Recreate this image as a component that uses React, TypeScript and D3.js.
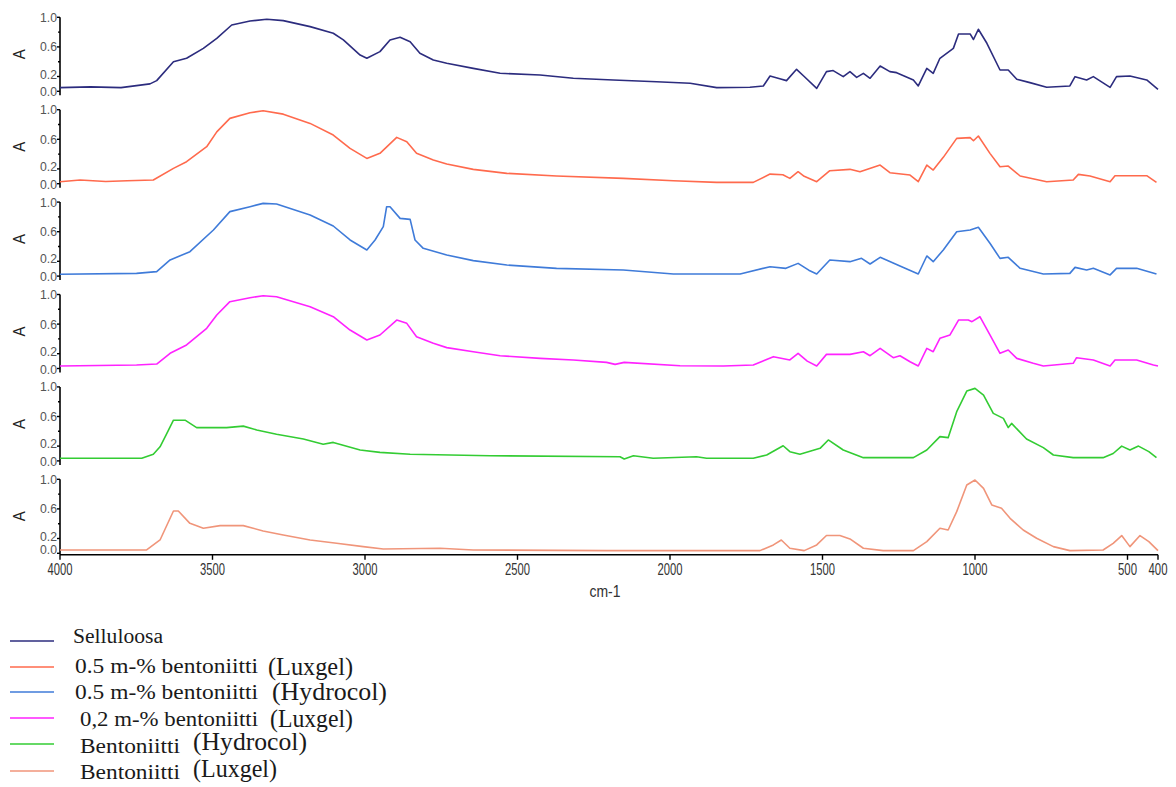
import React from "react";
import * as d3 from "d3";

// FTIR spectra, [wavenumber cm-1, absorbance]
const selluloosa: [number, number][] = [
  [4000, 0.05], [3900, 0.06], [3800, 0.05], [3705, 0.1], [3683, 0.144], [3628, 0.4], [3585, 0.446],
  [3530, 0.58], [3486, 0.716], [3437, 0.896], [3377, 0.95], [3322, 0.973], [3268, 0.955], [3180, 0.874],
  [3104, 0.784], [3071, 0.694], [3016, 0.49], [2994, 0.446], [2951, 0.536], [2918, 0.694], [2885, 0.73],
  [2852, 0.671], [2820, 0.514], [2776, 0.423], [2732, 0.378], [2645, 0.31], [2557, 0.243], [2426, 0.22],
  [2317, 0.176], [2186, 0.153], [2044, 0.13], [1934, 0.108], [1847, 0.05], [1738, 0.054], [1694, 0.072],
  [1672, 0.207], [1640, 0.17], [1618, 0.144], [1585, 0.297], [1560, 0.2], [1519, 0.04], [1487, 0.266],
  [1465, 0.28], [1432, 0.198], [1410, 0.266], [1388, 0.189], [1366, 0.243], [1344, 0.176], [1311, 0.342],
  [1279, 0.266], [1257, 0.252], [1202, 0.153], [1186, 0.072], [1158, 0.31], [1137, 0.243], [1115, 0.446],
  [1071, 0.58], [1054, 0.775], [1016, 0.775], [1005, 0.7], [989, 0.838], [961, 0.649], [918, 0.288],
  [891, 0.288], [863, 0.162], [820, 0.117], [765, 0.054], [689, 0.072], [672, 0.198], [634, 0.153],
  [612, 0.198], [557, 0.054], [536, 0.198], [492, 0.207], [437, 0.153], [400, 0.027],
];

const luxgel05: [number, number][] = [
  [4000, 0.027], [3934, 0.05], [3850, 0.03], [3780, 0.04], [3694, 0.05], [3628, 0.207], [3585, 0.297],
  [3519, 0.5], [3486, 0.7], [3443, 0.883], [3377, 0.959], [3334, 0.986], [3268, 0.94], [3180, 0.815],
  [3104, 0.658], [3049, 0.477], [2994, 0.342], [2951, 0.41], [2896, 0.626], [2863, 0.568], [2831, 0.41],
  [2776, 0.32], [2732, 0.266], [2645, 0.194], [2535, 0.14], [2372, 0.104], [2153, 0.072], [1989, 0.04],
  [1847, 0.018], [1727, 0.018], [1672, 0.13], [1630, 0.12], [1607, 0.072], [1580, 0.162], [1560, 0.1],
  [1519, 0.027], [1476, 0.176], [1410, 0.194], [1377, 0.162], [1311, 0.252], [1279, 0.149], [1213, 0.117],
  [1186, 0.027], [1158, 0.252], [1137, 0.185], [1104, 0.356], [1060, 0.613], [1016, 0.622], [1005, 0.58],
  [989, 0.644], [951, 0.41], [918, 0.23], [891, 0.239], [852, 0.104], [765, 0.027], [678, 0.05],
  [661, 0.126], [623, 0.104], [557, 0.027], [541, 0.108], [437, 0.108], [405, 0.018],
];

const hydrocol05: [number, number][] = [
  [4000, 0.024], [3749, 0.037], [3683, 0.06], [3639, 0.218], [3574, 0.33], [3497, 0.623], [3443, 0.871],
  [3377, 0.938], [3334, 0.983], [3290, 0.974], [3180, 0.826], [3104, 0.677], [3049, 0.488], [2994, 0.353],
  [2967, 0.488], [2940, 0.668], [2929, 0.938], [2918, 0.938], [2885, 0.78], [2852, 0.767], [2836, 0.488],
  [2809, 0.375], [2732, 0.285], [2645, 0.209], [2535, 0.15], [2372, 0.105], [2153, 0.082], [1989, 0.028],
  [1770, 0.028], [1672, 0.127], [1620, 0.105], [1580, 0.172], [1545, 0.08], [1519, 0.028], [1476, 0.218],
  [1410, 0.195], [1372, 0.24], [1344, 0.163], [1311, 0.254], [1246, 0.136], [1186, 0.028], [1158, 0.272],
  [1137, 0.195], [1104, 0.353], [1060, 0.6], [1016, 0.623], [989, 0.659], [951, 0.443], [918, 0.24],
  [891, 0.254], [852, 0.105], [776, 0.028], [689, 0.037], [672, 0.118], [634, 0.082], [612, 0.105],
  [557, 0.016], [536, 0.105], [470, 0.105], [405, 0.028],
];

const luxgel02: [number, number][] = [
  [4000, 0.034], [3749, 0.047], [3683, 0.06], [3639, 0.205], [3585, 0.318], [3519, 0.543], [3486, 0.723],
  [3443, 0.903], [3377, 0.957], [3334, 0.984], [3290, 0.97], [3180, 0.835], [3104, 0.7], [3049, 0.52],
  [2994, 0.385], [2951, 0.453], [2896, 0.655], [2863, 0.61], [2831, 0.43], [2776, 0.34], [2732, 0.282],
  [2645, 0.227], [2557, 0.173], [2426, 0.137], [2317, 0.115], [2208, 0.083], [2180, 0.056], [2150, 0.083],
  [1967, 0.038], [1825, 0.034], [1727, 0.047], [1661, 0.16], [1607, 0.115], [1580, 0.205], [1550, 0.1],
  [1519, 0.034], [1487, 0.191], [1410, 0.191], [1366, 0.227], [1344, 0.173], [1311, 0.272], [1268, 0.146],
  [1246, 0.173], [1213, 0.092], [1186, 0.034], [1158, 0.272], [1137, 0.227], [1115, 0.408], [1082, 0.453],
  [1054, 0.655], [1022, 0.655], [1010, 0.633], [984, 0.7], [951, 0.453], [918, 0.205], [891, 0.25],
  [863, 0.137], [809, 0.07], [776, 0.034], [678, 0.07], [667, 0.146], [612, 0.115], [557, 0.034],
  [541, 0.115], [470, 0.115], [415, 0.047], [400, 0.034],
];

const bentHydrocol: [number, number][] = [
  [4000, 0.035], [3732, 0.035], [3694, 0.089], [3672, 0.19], [3650, 0.37], [3628, 0.55], [3590, 0.55],
  [3552, 0.45], [3454, 0.45], [3399, 0.47], [3355, 0.418], [3290, 0.36], [3202, 0.296], [3137, 0.224],
  [3104, 0.25], [3016, 0.147], [2951, 0.115], [2852, 0.089], [2590, 0.07], [2164, 0.057], [2150, 0.026],
  [2120, 0.07], [2055, 0.035], [1913, 0.057], [1880, 0.035], [1727, 0.035], [1683, 0.08], [1629, 0.205],
  [1607, 0.125], [1574, 0.089], [1508, 0.17], [1481, 0.283], [1432, 0.147], [1366, 0.044], [1202, 0.044],
  [1158, 0.147], [1115, 0.328], [1088, 0.314], [1060, 0.665], [1027, 0.944], [1000, 0.98], [972, 0.89],
  [940, 0.642], [907, 0.575], [891, 0.45], [880, 0.507], [831, 0.296], [776, 0.179], [743, 0.08],
  [678, 0.044], [580, 0.044], [547, 0.1], [519, 0.2], [492, 0.147], [464, 0.2], [430, 0.125], [405, 0.044],
];

const bentLuxgel: [number, number][] = [
  [4000, 0.045], [3716, 0.045], [3672, 0.18], [3628, 0.572], [3612, 0.572], [3574, 0.405], [3530, 0.338],
  [3475, 0.374], [3399, 0.374], [3334, 0.302], [3268, 0.248], [3180, 0.18], [3093, 0.135], [3006, 0.09],
  [2940, 0.059], [2754, 0.068], [2645, 0.045], [2208, 0.036], [1705, 0.036], [1661, 0.113], [1635, 0.18],
  [1607, 0.068], [1560, 0.036], [1519, 0.113], [1487, 0.24], [1443, 0.24], [1410, 0.194], [1366, 0.068],
  [1301, 0.036], [1202, 0.036], [1158, 0.158], [1115, 0.338], [1088, 0.315], [1060, 0.563], [1027, 0.923],
  [1000, 0.99], [972, 0.878], [945, 0.653], [913, 0.608], [885, 0.473], [842, 0.315], [798, 0.203],
  [743, 0.09], [689, 0.036], [580, 0.045], [547, 0.135], [519, 0.24], [492, 0.09], [459, 0.24],
  [430, 0.158], [400, 0.036],
];

const seriesData = [selluloosa, luxgel05, hydrocol05, luxgel02, bentHydrocol, bentLuxgel];
const seriesColors = ["#2c2c7e", "#ff6a4d", "#3f7bd9", "#ff22ff", "#33cc33", "#f0957a"];
const legendNames = [
  "Selluloosa",
  "0.5 m-% bentoniitti",
  "0.5 m-% bentoniitti",
  "0,2 m-% bentoniitti",
  "Bentoniitti",
  "Bentoniitti",
];
const legendSuffixes = ["", "(Luxgel)", "(Hydrocol)", "(Luxgel)", "(Hydrocol)", "(Luxgel)"];

const xTicks = [4000, 3500, 3000, 2500, 2000, 1500, 1000, 500, 400];
const yTicks = [0, 0.2, 0.4, 0.6, 0.8, 1.0];
const yLabelled = [0, 0.2, 0.6, 1.0];

// layout
const W = 1176;
const H = 787;
const X0 = 60;
const X1 = 1158;
const PANEL_TOP = 17.3;
const PANEL_STEP = 92.4;
const PANEL_H = 74;

// legend text placement [x main, main width, baseline, x suffix, suffix width, suffix baseline]
const legendLayout = [
  [73, 90, 643, 0, 0, 0],
  [75, 183, 673, 268, 85, 675],
  [75, 183, 699, 272, 115, 700],
  [80, 178, 726, 270, 83, 727],
  [80, 100, 753, 193, 114, 750],
  [80, 100, 779, 193, 84, 777],
];
const legendLineY = [641, 667, 692, 718, 744, 771];

// small vertical nudges so the crowded 0.0 / 0.2 labels stay apart
function labelBaseline(t: number, yPos: number, last: boolean) {
  if (t === 0) return yPos + (last ? 1 : 5);
  if (t === 0.2) return yPos + 2;
  return yPos + 4.5;
}

export default function App() {
  const x = d3.scaleLinear().domain([4000, 400]).range([X0, X1]);
  const nPanels = seriesData.length;

  const panels = seriesData.map((data, i) => {
    const top = PANEL_TOP + i * PANEL_STEP;
    const y = d3.scaleLinear().domain([0, 1]).range([top + PANEL_H, top]);
    const line = d3
      .line<[number, number]>()
      .x((d) => x(d[0]))
      .y((d) => y(d[1]));
    const last = i === nPanels - 1;
    return (
      <g key={i}>
        {/* y axis */}
        <line x1={X0} x2={X0} y1={top} y2={top + PANEL_H + (last ? 1.5 : 4)} stroke="#000" strokeWidth={1.6} />
        {yTicks.map((t) => (
          <line key={t} x1={X0 - (yLabelled.includes(t) ? 3 : 2)} x2={X0} y1={y(t)} y2={y(t)} stroke="#000" strokeWidth={1.4} />
        ))}
        {yLabelled.map((t) => (
          <text
            key={t}
            x={57}
            y={labelBaseline(t, y(t), last)}
            textAnchor="end"
            fontFamily="Liberation Sans, Arial, sans-serif"
            fontSize={12.5}
            textLength={17}
            lengthAdjust="spacingAndGlyphs"
            fill="#555"
          >
            {t.toFixed(1)}
          </text>
        ))}
        <text
          transform={`translate(25, ${top + PANEL_H / 2}) rotate(-90)`}
          textAnchor="middle"
          fontFamily="Liberation Sans, Arial, sans-serif"
          fontSize={16}
          textLength={10}
          lengthAdjust="spacingAndGlyphs"
          fill="#222"
        >
          A
        </text>
        <path d={line(data) || ""} fill="none" stroke={seriesColors[i]} strokeWidth={1.6} strokeLinejoin="round" />
      </g>
    );
  });

  const axisY = PANEL_TOP + (nPanels - 1) * PANEL_STEP + PANEL_H + 1.5;

  return (
    <svg
      width={W}
      height={H}
      style={{ position: "absolute", left: 0, top: 0, background: "#fff" }}
    >
      {panels}
      {/* x axis */}
      <line x1={X0} x2={X1} y1={axisY} y2={axisY} stroke="#000" strokeWidth={1.6} />
      {xTicks.map((t) => (
        <g key={t}>
          <line x1={x(t)} x2={x(t)} y1={axisY} y2={axisY + 5} stroke="#000" strokeWidth={1.4} />
          <text
            x={x(t)}
            y={axisY + 20}
            textAnchor="middle"
            fontFamily="Liberation Sans, Arial, sans-serif"
            fontSize={17}
            textLength={String(t).length === 4 ? 25 : 19}
            lengthAdjust="spacingAndGlyphs"
            fill="#333"
          >
            {t}
          </text>
        </g>
      ))}
      <text
        x={605}
        y={597}
        textAnchor="middle"
        fontFamily="Liberation Sans, Arial, sans-serif"
        fontSize={17}
        textLength={31}
        lengthAdjust="spacingAndGlyphs"
        fill="#333"
      >
        cm-1
      </text>

      {/* legend */}
      {legendNames.map((name, i) => {
        const [mx, mw, mb, sx, sw, sb] = legendLayout[i];
        return (
          <g key={i}>
            <line x1={10} x2={54} y1={legendLineY[i]} y2={legendLineY[i]} stroke={seriesColors[i]} strokeWidth={1.6} />
            <text
              x={mx}
              y={mb}
              fontFamily="Liberation Serif, Times New Roman, serif"
              fontSize={i === 0 ? 20 : 21}
              textLength={mw}
              lengthAdjust="spacingAndGlyphs"
              fill="#1a1a1a"
            >
              {name}
            </text>
            {legendSuffixes[i] && (
              <text
                x={sx}
                y={sb}
                fontFamily="Liberation Serif, Times New Roman, serif"
                fontSize={25}
                textLength={sw}
                lengthAdjust="spacingAndGlyphs"
                fill="#1a1a1a"
              >
                {legendSuffixes[i]}
              </text>
            )}
          </g>
        );
      })}
    </svg>
  );
}
